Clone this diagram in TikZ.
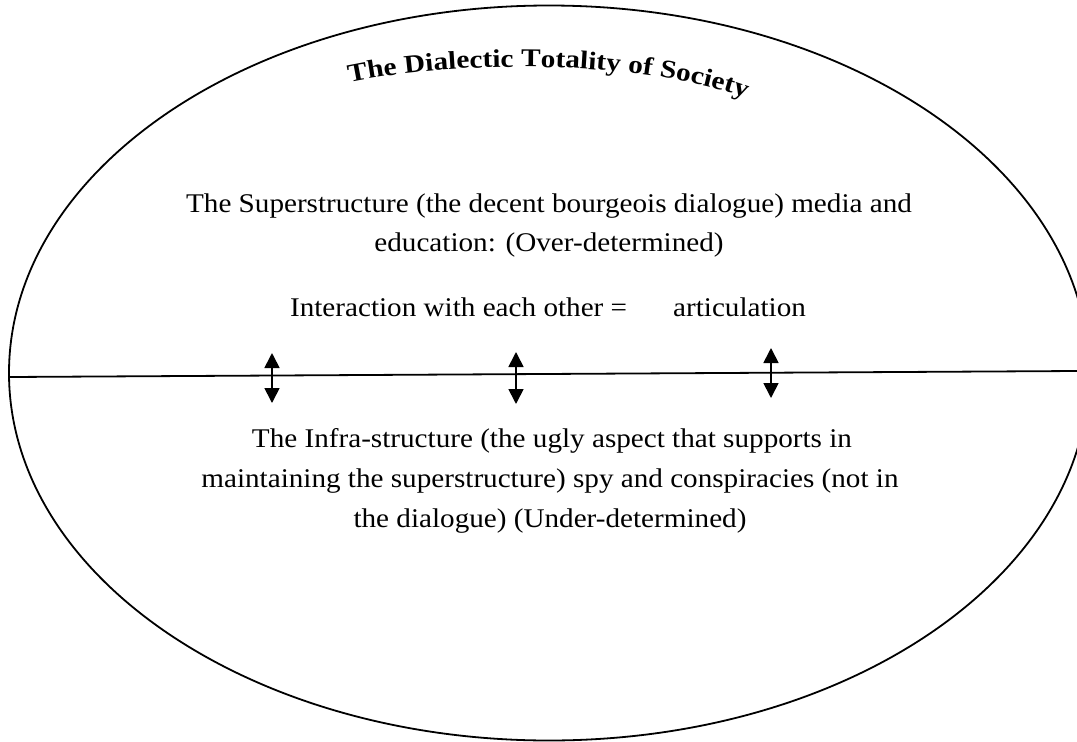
\documentclass[tikz,border=0pt]{standalone}
\usepackage{fontspec}
\setmainfont{Liberation Serif}
\newfontfamily\bodyfont[FakeStretch=1.08]{Liberation Serif}
\newfontfamily\headfont[FakeStretch=1.15]{Liberation Serif}
\usetikzlibrary{arrows.meta,decorations.text}
\begin{document}
\begin{tikzpicture}[x=1pt,y=-1pt,
  body/.style={anchor=base,inner sep=0pt,font=\bodyfont\fontsize{27}{31}\selectfont},
  dblarrow/.style={line width=1.7pt,{Triangle[width=15pt,length=15pt]}-{Triangle[width=15pt,length=15pt]}},
  outline/.style={line width=1.8pt}]
\useasboundingbox (0,0) rectangle (1077,742);
\fill[white] (0,0) rectangle (1077,742);
% ellipse
\draw[outline] (549,373) ellipse [x radius=540, y radius=367.5];
% dividing line
\coordinate (lineL) at (9,377);
\coordinate (lineR) at (1077,371);
\draw[outline] (lineL) -- (lineR);
% title along arc
\path[decorate,decoration={text along path,text align=center,
  text={|\headfont\fontsize{25.5}{30}\selectfont\bfseries|The Dialectic Totality of Society}}]
  (343,84) .. controls (450,60) and (640,58) .. (752,100);
% superstructure
\node[body] (s1) at (549,212) {The Superstructure (the decent bourgeois dialogue) media and};
\node[body] (s2) at (549,251) {education: (Over-determined)};
\node[body] (int) at (548,316) {Interaction with each other =\hspace{46pt}articulation};
% infrastructure
\node[body] (i1) at (552,447) {The Infra-structure (the ugly aspect that supports in};
\node[body] (i2) at (550,487) {maintaining the superstructure) spy and conspiracies (not in};
\node[body] (i3) at (550,527) {the dialogue) (Under-determined)};
% arrows
\coordinate (a1t) at (272,353); \coordinate (a1b) at (272,403);
\coordinate (a2t) at (516,352); \coordinate (a2b) at (516,404);
\coordinate (a3t) at (771,348); \coordinate (a3b) at (771,398);
\draw[dblarrow] (a1t) -- (a1b);
\draw[dblarrow] (a2t) -- (a2b);
\draw[dblarrow] (a3t) -- (a3b);
\end{tikzpicture}
\end{document}
